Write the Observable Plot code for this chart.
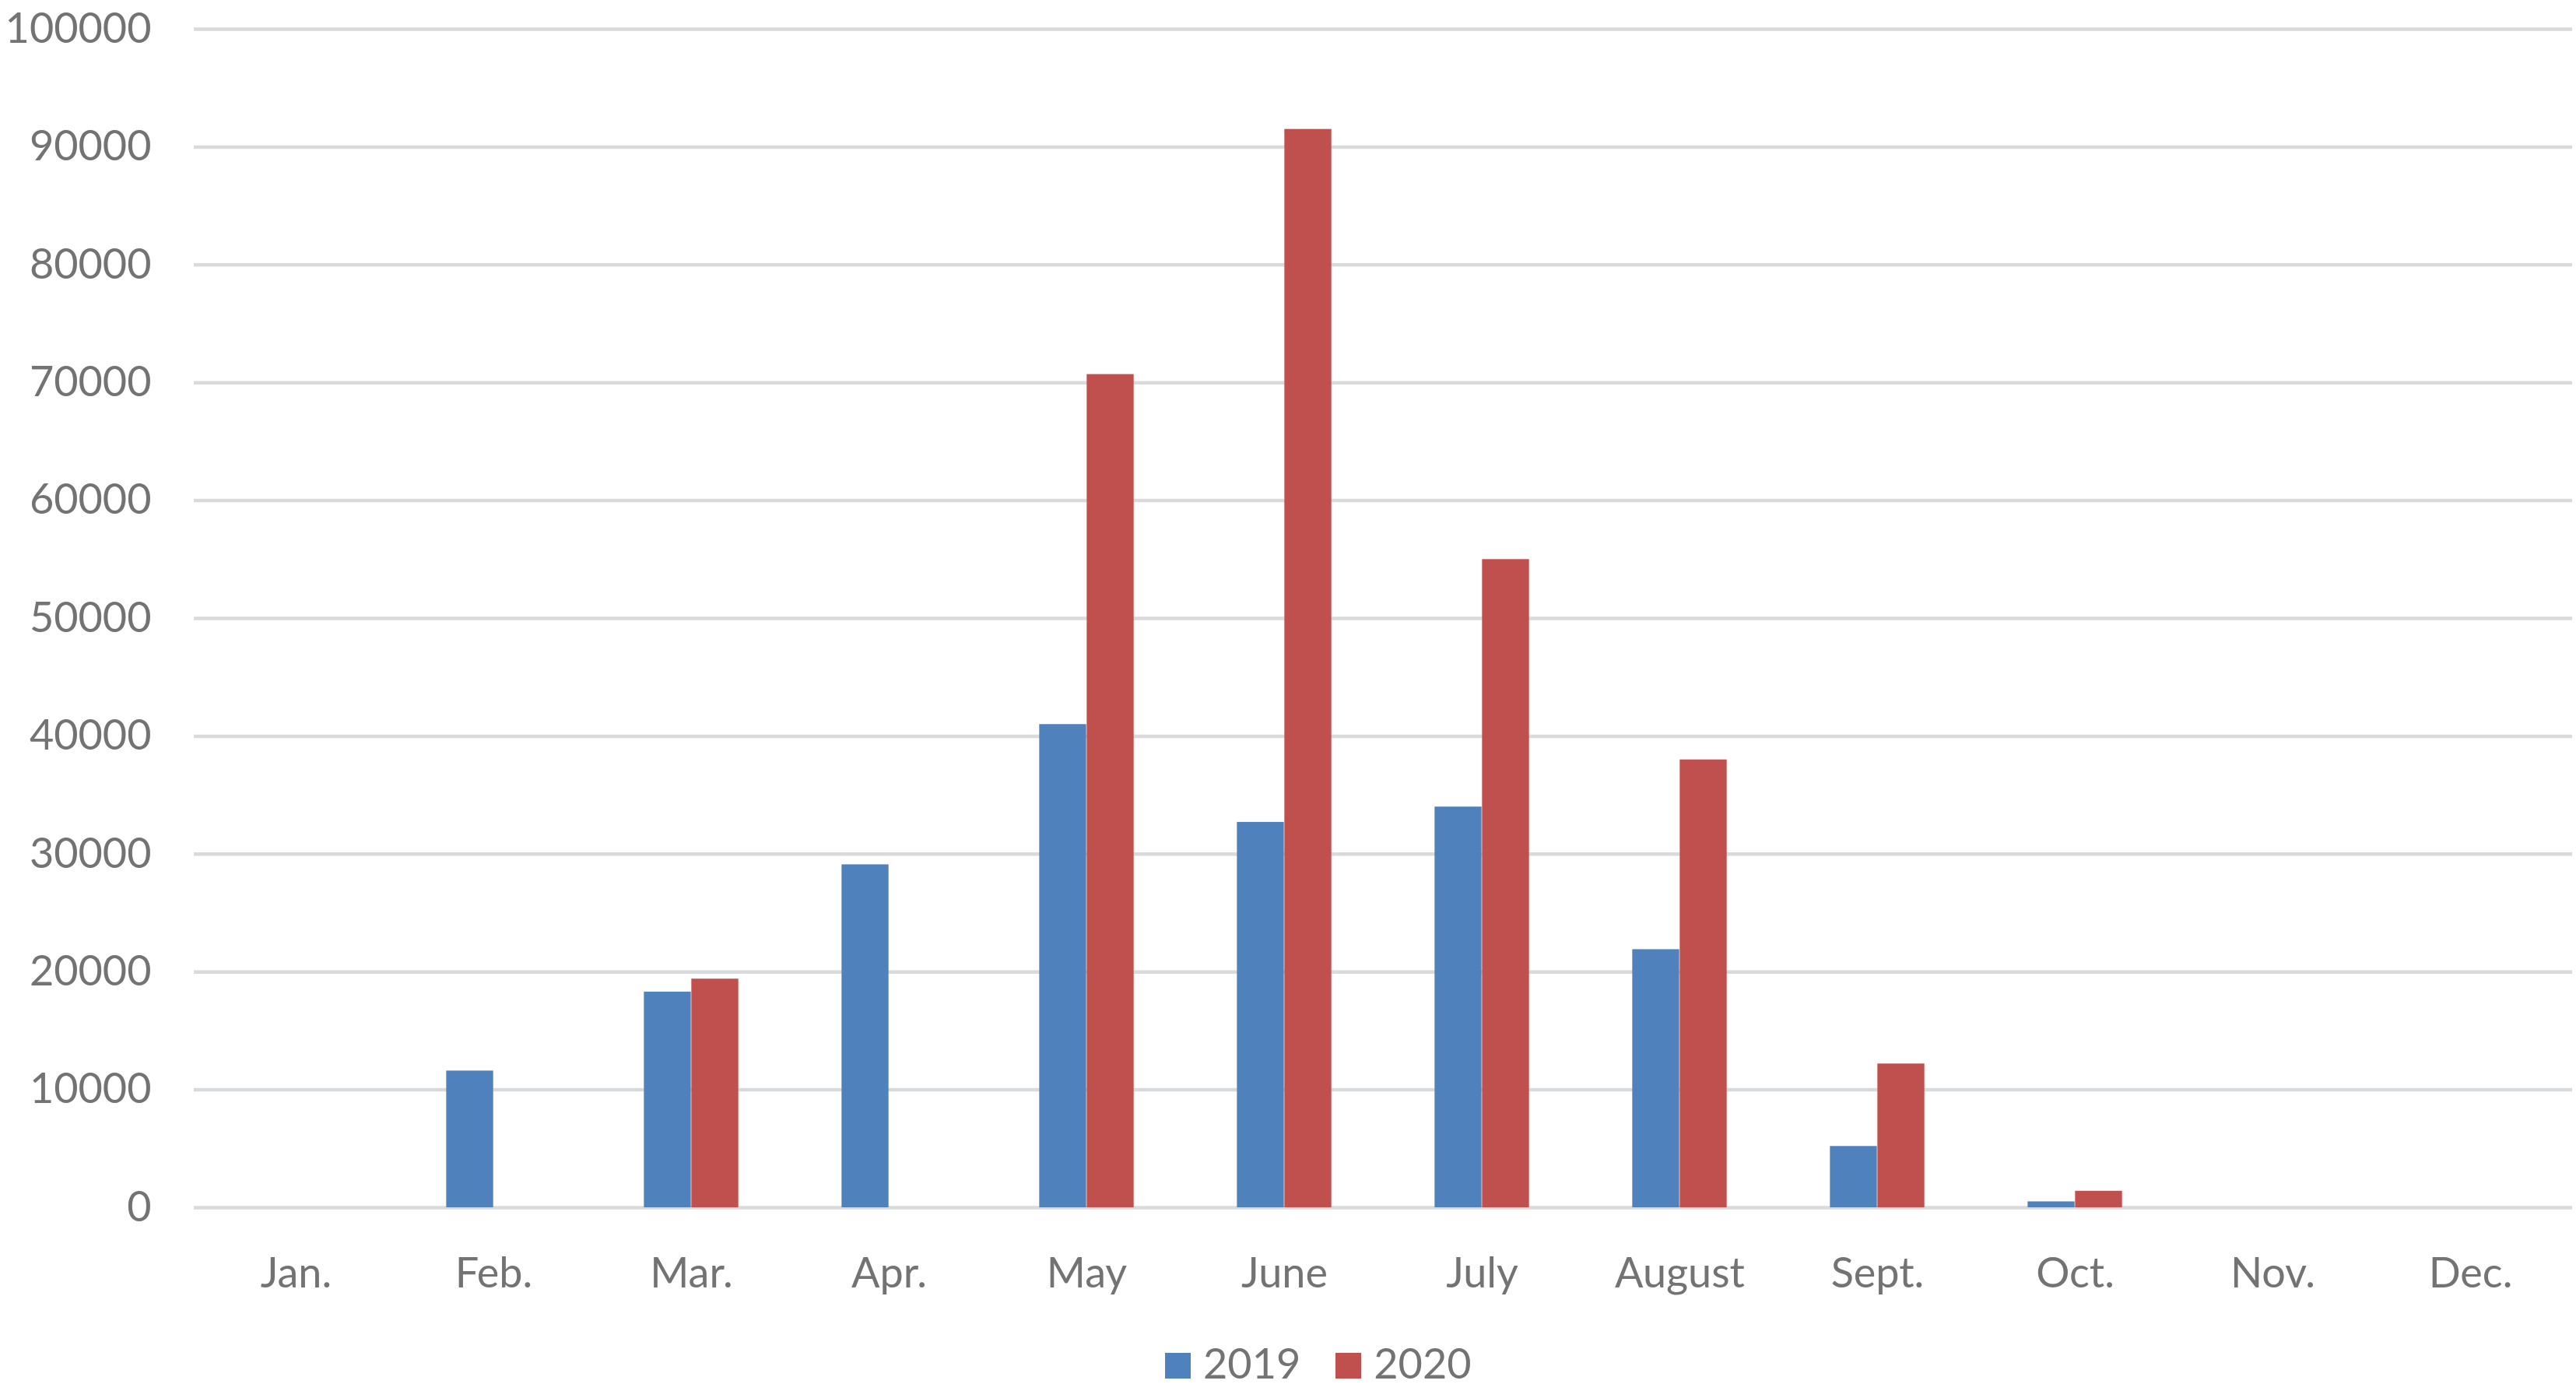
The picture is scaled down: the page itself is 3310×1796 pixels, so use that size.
<!DOCTYPE html>
<html>
<head>
<meta charset="utf-8">
<script src="https://cdn.jsdelivr.net/npm/d3@7"></script>
<script src="https://cdn.jsdelivr.net/npm/@observablehq/plot@0.6"></script>
<style>
  html, body { margin: 0; padding: 0; background: #ffffff; overflow: hidden; }
  svg { display: block; }
  #legend { font-family: Lato, sans-serif; font-size: 54px; color: #737373; white-space: nowrap; line-height: normal; }
  #legend .sw { display: inline-block; width: 33px; height: 33px; vertical-align: baseline; }
</style>
</head>
<body>
<div id="chart"></div>
<div id="legend"></div>
<script>
const months = ["Jan.", "Feb.", "Mar.", "Apr.", "May", "June", "July", "August", "Sept.", "Oct.", "Nov.", "Dec."];
const series = ["2019", "2020"];
const colors = ["#4F81BD", "#C0504D"];
const values2019 = [0, 11600, 18300, 29100, 41000, 32700, 34000, 21900, 5200, 500, 0, 0];
const values2020 = [0, 0, 19400, 0, 70700, 91500, 55000, 38000, 12200, 1400, 0, 0];
const yTicks = [0, 10000, 20000, 30000, 40000, 50000, 60000, 70000, 80000, 90000, 100000];

const W = 3310, H = 1700;
const mL = 249, mR = 5, mT = 37, mB = 149;
const step = (W - mL - mR) / months.length;
const barW = 61;

const rows2019 = months.map((m, i) => ({month: m, value: values2019[i]})).filter(d => d.value > 0);
const rows2020 = months.map((m, i) => ({month: m, value: values2020[i]})).filter(d => d.value > 0);

const chart = Plot.plot({
  width: W,
  height: H,
  marginLeft: mL,
  marginRight: mR,
  marginTop: mT,
  marginBottom: mB,
  style: {fontFamily: "Lato, sans-serif", fontSize: "54px", color: "#737373", background: "#ffffff"},
  x: {type: "band", domain: months, padding: 0},
  y: {domain: [0, 100000]},
  marks: [
    Plot.gridY(yTicks, {stroke: "#d9dadc", strokeOpacity: 1, strokeWidth: 4.5}),
    Plot.barY(rows2019, {x: "month", y: "value", fill: colors[0], insetLeft: step / 2 - barW, insetRight: step / 2}),
    Plot.barY(rows2020, {x: "month", y: "value", fill: colors[1], insetLeft: step / 2, insetRight: step / 2 - barW}),
    Plot.axisY(yTicks, {tickSize: 0, tickPadding: 55, tickFormat: d => String(d), label: null, fontSize: 54}),
    Plot.axisX({tickSize: 0, tickPadding: 64, label: null, fontSize: 54})
  ]
});
document.getElementById("chart").appendChild(chart);

const legend = document.getElementById("legend");
legend.style.marginLeft = "1497px";
legend.style.marginTop = "18px";
series.forEach((s, i) => {
  const sw = document.createElement("span");
  sw.className = "sw";
  sw.style.background = colors[i];
  sw.style.marginRight = "16px";
  if (i > 0) sw.style.marginLeft = "45px";
  const t = document.createElement("span");
  t.textContent = s;
  legend.appendChild(sw);
  legend.appendChild(t);
});
</script>
</body>
</html>
